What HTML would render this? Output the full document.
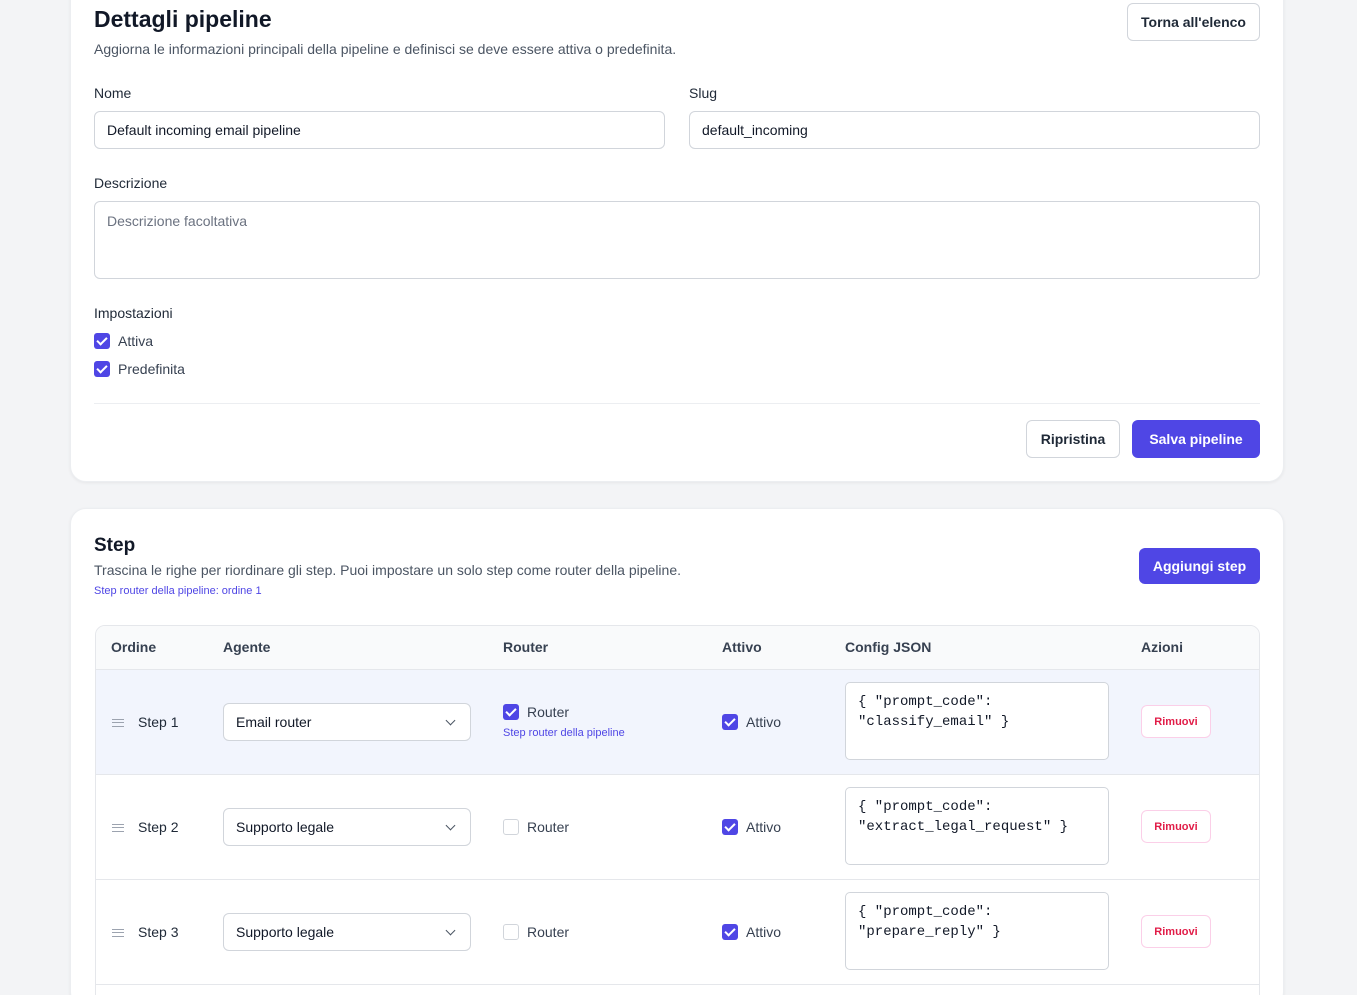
<!DOCTYPE html>
<html><head><meta charset="utf-8"><style>
*{box-sizing:border-box;margin:0;padding:0}
html{width:1357px;height:995px;overflow:hidden}
body{width:1357px;height:995px;background:#f3f4f6;font-family:"Liberation Sans",sans-serif;color:#111827;position:relative;overflow:hidden}
.a{position:absolute}
.card{position:absolute;background:#fff;border-radius:16px;box-shadow:0 1px 3px rgba(0,0,0,.06);border:1px solid #eceef1}
.inp{position:absolute;border:1px solid #d1d5db;border-radius:6px;background:#fff;font-size:14px;padding-left:12px;display:flex;align-items:center;color:#111827}
.lbl{position:absolute;font-size:14px;color:#1f2937}
.cb{position:absolute;width:16px;height:16px;border-radius:3px;background:#4f46e5}
.cb::after{content:"";position:absolute;left:5px;top:2px;width:4px;height:8px;border:solid #fff;border-width:0 2px 2px 0;transform:rotate(45deg)}
.cbe{position:absolute;width:16px;height:16px;border-radius:3px;border:1px solid #d1d5db;background:#fff}
.btn{position:absolute;border-radius:6px;font-size:14px;display:flex;align-items:center;justify-content:center;font-weight:600}
.bw{border:1px solid #d1d5db;background:#fff;color:#1f2937}
.bp{background:#4f46e5;color:#fff}
.th{position:absolute;top:639px;font-size:14px;font-weight:bold;color:#374151}
.ta{position:absolute;border:1px solid #d1d5db;border-radius:5px;background:#fff;font-family:"Liberation Mono",monospace;font-size:14px;padding:9px 12px;line-height:20px;white-space:pre;color:#111827}
.rm{position:absolute;width:70px;height:33px;border:1px solid #fbcfe8;border-radius:6px;background:#fff;color:#e11d48;font-size:11px;font-weight:bold;display:flex;align-items:center;justify-content:center}
.sel::after{content:"";position:absolute;right:16px;top:13px;width:6px;height:6px;border:solid #4b5563;border-width:0 1.5px 1.5px 0;transform:rotate(45deg)}
.ham{position:absolute;width:12px;height:8px;border-top:1.5px solid #9ca3af;border-bottom:1.5px solid #9ca3af}
.ham::after{content:"";position:absolute;left:0;right:0;top:2px;border-top:1.5px solid #9ca3af}
</style></head><body>
<div class="card" style="left:70px;top:-20px;width:1214px;height:502px"></div>
<div class="a" style="left:94px;top:6px;font-size:23px;font-weight:bold">Dettagli pipeline</div>
<div class="a" style="left:94px;top:41px;font-size:14px;color:#4b5563">Aggiorna le informazioni principali della pipeline e definisci se deve essere attiva o predefinita.</div>
<div class="btn bw" style="left:1127px;top:3px;width:133px;height:38px">Torna all'elenco</div>
<div class="lbl" style="left:94px;top:85px">Nome</div>
<div class="lbl" style="left:689px;top:85px">Slug</div>
<div class="inp" style="left:94px;top:111px;width:571px;height:38px">Default incoming email pipeline</div>
<div class="inp" style="left:689px;top:111px;width:571px;height:38px">default_incoming</div>
<div class="lbl" style="left:94px;top:175px">Descrizione</div>
<div class="inp" style="left:94px;top:201px;width:1166px;height:78px;align-items:flex-start;padding-top:11px;color:#6b7280">Descrizione facoltativa</div>
<div class="lbl" style="left:94px;top:305px">Impostazioni</div>
<div class="cb" style="left:94px;top:333px"></div><div class="lbl" style="left:118px;top:333px;color:#374151">Attiva</div>
<div class="cb" style="left:94px;top:361px"></div><div class="lbl" style="left:118px;top:361px;color:#374151">Predefinita</div>
<div class="a" style="left:94px;top:403px;width:1166px;border-top:1px solid #eceef1"></div>
<div class="btn bw" style="left:1026px;top:420px;width:94px;height:38px">Ripristina</div>
<div class="btn bp" style="left:1132px;top:420px;width:128px;height:38px">Salva pipeline</div>

<div class="card" style="left:70px;top:508px;width:1214px;height:500px"></div>
<div class="a" style="left:94px;top:535px;font-size:19px;font-weight:bold">Step</div>
<div class="a" style="left:94px;top:562px;font-size:14px;color:#4b5563">Trascina le righe per riordinare gli step. Puoi impostare un solo step come router della pipeline.</div>
<div class="a" style="left:94px;top:585px;font-size:11px;color:#4f46e5">Step router della pipeline: ordine 1</div>
<div class="btn bp" style="left:1139px;top:548px;width:121px;height:36px">Aggiungi step</div>

<div class="a" style="left:95px;top:625px;width:1165px;height:380px;border:1px solid #e5e7eb;border-radius:10px;overflow:hidden">
<div class="a" style="left:0;top:0;width:100%;height:44px;background:#f9fafb;border-bottom:1px solid #e5e7eb"></div>
<div class="a" style="left:0;top:44px;width:100%;height:105px;background:#f2f5fd;border-bottom:1px solid #e5e7eb"></div>
<div class="a" style="left:0;top:149px;width:100%;height:105px;border-bottom:1px solid #e5e7eb"></div>
<div class="a" style="left:0;top:254px;width:100%;height:105px;border-bottom:1px solid #e5e7eb"></div>
</div>
<div class="th" style="left:111px">Ordine</div><div class="th" style="left:223px">Agente</div><div class="th" style="left:503px">Router</div><div class="th" style="left:722px">Attivo</div><div class="th" style="left:845px">Config JSON</div><div class="th" style="left:1141px">Azioni</div>

<div class="ham" style="left:112px;top:719px"></div><div class="lbl" style="left:138px;top:714px">Step 1</div>
<div class="inp sel" style="left:223px;top:703px;width:248px;height:38px">Email router</div>
<div class="cb" style="left:503px;top:704px"></div><div class="lbl" style="left:527px;top:704px;color:#374151">Router</div>
<div class="a" style="left:503px;top:727px;font-size:11px;color:#4f46e5">Step router della pipeline</div>
<div class="cb" style="left:722px;top:714px"></div><div class="lbl" style="left:746px;top:714px;color:#374151">Attivo</div>
<div class="ta" style="left:845px;top:682px;width:264px;height:78px">{ "prompt_code":
"classify_email" }</div>
<div class="rm" style="left:1141px;top:705px">Rimuovi</div>

<div class="ham" style="left:112px;top:824px"></div><div class="lbl" style="left:138px;top:819px">Step 2</div>
<div class="inp sel" style="left:223px;top:808px;width:248px;height:38px">Supporto legale</div>
<div class="cbe" style="left:503px;top:819px"></div><div class="lbl" style="left:527px;top:819px;color:#374151">Router</div>
<div class="cb" style="left:722px;top:819px"></div><div class="lbl" style="left:746px;top:819px;color:#374151">Attivo</div>
<div class="ta" style="left:845px;top:787px;width:264px;height:78px">{ "prompt_code":
"extract_legal_request" }</div>
<div class="rm" style="left:1141px;top:810px">Rimuovi</div>

<div class="ham" style="left:112px;top:929px"></div><div class="lbl" style="left:138px;top:924px">Step 3</div>
<div class="inp sel" style="left:223px;top:913px;width:248px;height:38px">Supporto legale</div>
<div class="cbe" style="left:503px;top:924px"></div><div class="lbl" style="left:527px;top:924px;color:#374151">Router</div>
<div class="cb" style="left:722px;top:924px"></div><div class="lbl" style="left:746px;top:924px;color:#374151">Attivo</div>
<div class="ta" style="left:845px;top:892px;width:264px;height:78px">{ "prompt_code":
"prepare_reply" }</div>
<div class="rm" style="left:1141px;top:915px">Rimuovi</div>
</body></html>
